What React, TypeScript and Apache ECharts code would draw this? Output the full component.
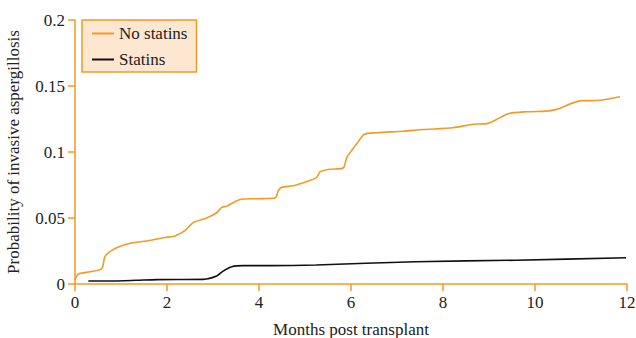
import React, { useEffect, useRef } from "react";
import * as echarts from "echarts";

const noStatinsMonths = [0, 0.07, 0.33, 0.58, 0.65, 0.76, 0.94, 1.23, 1.56, 1.99, 2.17, 2.39, 2.57, 2.86, 3.08, 3.19, 3.3, 3.59, 3.95, 4.35, 4.42, 4.49, 4.75, 5.07, 5.25, 5.33, 5.54, 5.83, 5.91, 6.05, 6.16, 6.29, 6.56, 7.14, 7.57, 8.22, 8.66, 8.98, 9.42, 9.82, 10.25, 10.47, 11.01, 11.34, 11.85];
const noStatinsProb = [0.003, 0.0075, 0.0093, 0.0116, 0.0207, 0.0245, 0.028, 0.031, 0.0326, 0.0354, 0.0364, 0.0404, 0.0465, 0.05, 0.054, 0.058, 0.059, 0.064, 0.0646, 0.0651, 0.0707, 0.0732, 0.0745, 0.078, 0.0805, 0.085, 0.0869, 0.0879, 0.096, 0.1028, 0.108, 0.1134, 0.1146, 0.1157, 0.117, 0.1184, 0.121, 0.1217, 0.129, 0.1305, 0.131, 0.1323, 0.1389, 0.139, 0.1419];

const statinsMonths = [0.29, 0.83, 1.34, 1.78, 2.79, 3.08, 3.22, 3.41, 3.66, 4.24, 5.24, 7.41, 9.59, 11.98];
const statinsProb = [0.0023, 0.0023, 0.0028, 0.0033, 0.0035, 0.006, 0.0098, 0.0131, 0.0139, 0.0139, 0.0144, 0.0169, 0.018, 0.0199];

const xTicks = [0, 2, 4, 6, 8, 10, 12];
const yTicks = [0, 0.05, 0.1, 0.15, 0.2];

const ORANGE = "#F39A26";
const FONT = "'Liberation Serif', 'Times New Roman', serif";
const FS = 17;

const fmt = (v: number) => `{t|${parseFloat(v.toFixed(3)).toString()}}`;

export default function App() {
  const ref = useRef<HTMLDivElement>(null);
  useEffect(() => {
    if (!ref.current) return;
    const chart = echarts.init(ref.current, undefined, { renderer: "svg" });
    const labelStyle = {
      color: "#222",
      fontFamily: FONT,
      fontSize: FS,
      formatter: fmt,
      rich: { t: { color: "#222", fontFamily: FONT, fontSize: FS } },
    };
    const axisCommon = {
      axisLine: { show: true, lineStyle: { color: ORANGE, width: 1.5 } },
      axisTick: { show: true, length: 7, lineStyle: { color: ORANGE, width: 1.5 } },
      splitLine: { show: false },
      nameTextStyle: { color: "#222", fontFamily: FONT, fontSize: FS },
    };
    chart.setOption({
      animation: false,
      backgroundColor: "#fff",
      textStyle: { fontFamily: FONT },
      grid: {
        left: 75,
        right: 9,
        top: 20,
        bottom: 54,
        containLabel: false,
        outerBoundsMode: "none",
      },
      legend: {
        left: 82,
        top: 20,
        orient: "vertical",
        backgroundColor: "#FDE7D1",
        borderColor: ORANGE,
        borderWidth: 1.5,
        borderRadius: 0,
        padding: [5, 9, 4, 9],
        itemWidth: 22,
        itemHeight: 14,
        itemGap: 9,
        itemStyle: { opacity: 0 },
        textStyle: { color: "#222", fontFamily: FONT, fontSize: FS },
        data: ["No statins", "Statins"],
      },
      xAxis: {
        type: "value",
        min: xTicks[0],
        max: xTicks[xTicks.length - 1],
        interval: 2,
        name: "Months post transplant",
        nameLocation: "middle",
        nameGap: 37,
        ...axisCommon,
        axisLabel: { ...labelStyle, margin: 10 },
      },
      yAxis: {
        type: "value",
        min: yTicks[0],
        max: yTicks[yTicks.length - 1],
        interval: 0.05,
        name: "Probability of invasive aspergillosis",
        nameLocation: "middle",
        nameGap: 53,
        ...axisCommon,
        axisLabel: { ...labelStyle, margin: 10 },
      },
      series: [
        {
          name: "No statins",
          type: "line",
          symbol: "none",
          smooth: 0.25,
          color: ORANGE,
          lineStyle: { color: ORANGE, width: 1.6 },
          data: noStatinsMonths.map((m, i) => [m, noStatinsProb[i]]),
        },
        {
          name: "Statins",
          type: "line",
          symbol: "none",
          smooth: 0.25,
          color: "#111",
          lineStyle: { color: "#111", width: 1.6 },
          data: statinsMonths.map((m, i) => [m, statinsProb[i]]),
        },
      ],
    });
    return () => chart.dispose();
  }, []);
  return (
    <div
      ref={ref}
      style={{ position: "fixed", left: 0, top: 0, width: 636, height: 338 }}
    />
  );
}
